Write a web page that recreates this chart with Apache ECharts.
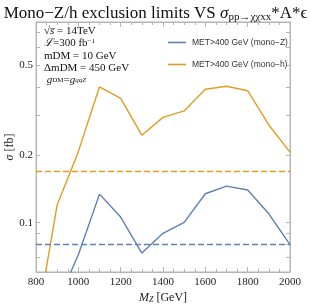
<!DOCTYPE html>
<html><head><meta charset="utf-8">
<script src="https://cdn.jsdelivr.net/npm/echarts@6/dist/echarts.min.js"></script>
<style>html,body{margin:0;padding:0;background:#fff}#c{width:311px;height:306px}</style>
</head><body><div id="c"></div>
<script>
const masses = [800, 900, 1000, 1100, 1200, 1300, 1400, 1500, 1600, 1700, 1800, 1900, 2000];
const monoZ = [0.020, 0.044, 0.072, 0.134, 0.106, 0.0733, 0.0897, 0.1004, 0.1345, 0.1455, 0.1397, 0.1096, 0.080];
const monoH = [0.034, 0.120, 0.207, 0.402, 0.357, 0.245, 0.294, 0.314, 0.392, 0.404, 0.386, 0.272, 0.206];
const limitZ = 0.0782;
const limitH = 0.170;
const yLabelValues = [0.1, 0.2, 0.5];
const yTickValues = [0.06, 0.07, 0.08, 0.09, 0.1, 0.2, 0.3, 0.4, 0.5, 0.6, 0.7];
const seriesNames = ['MET>400 GeV (mono\u2212Z)', 'MET>400 GeV (mono\u2212h)'];

const BLUE = '#5e81b5', ORANGE = '#e19c24', FRAME = '#b4b4b4';
const SERIF = '"Liberation Serif","DejaVu Serif",serif';
const SANS = '"Liberation Sans",Arial,sans-serif';
const yMin = 0.0604, yMax = 0.78;

const chart = echarts.init(document.getElementById('c'), null, {renderer: 'canvas'});
function yAx(pos, labels, ticks, len) {
  return {
    type: 'log', position: pos, min: yMin, max: yMax, logBase: 10,
    axisLine: {show: true, lineStyle: {color: FRAME, width: 1}},
    splitLine: {show: false},
    axisTick: {show: true, inside: true, length: len, customValues: ticks, lineStyle: {color: FRAME, width: 1}},
    axisLabel: labels ? {show: true, customValues: yLabelValues, fontFamily: SERIF, fontSize: 11, color: '#222', margin: 3,
      formatter: v => String(+(+v).toFixed(2))} : {show: false},
  };
}
const xCommon = {
  type: 'value', min: 800, max: 2000, interval: 200,
  axisLine: {show: true, onZero: false, lineStyle: {color: FRAME, width: 1}}, splitLine: {show: false},
  axisTick: {show: true, inside: true, length: 5, lineStyle: {color: FRAME}},
  minorTick: {show: true, splitNumber: 4, length: 3, lineStyle: {color: FRAME}},
};
const option = {
  animation: false,
  title: {
    text: 'Mono\u2212Z/h exclusion limits VS {s|\u03c3}{sub|pp\u2192\u03c7\u03c7xx}*A*\u03f5',
    left: 'center', top: 0,
    textStyle: {fontFamily: SERIF, fontSize: 17, fontWeight: 'normal', color: '#111',
      rich: {s: {fontFamily: SERIF, fontSize: 17, fontStyle: 'italic', color: '#111'},
             sub: {fontFamily: SERIF, fontSize: 11, color: '#111', verticalAlign: 'bottom', padding: [7, 0, 0, 0]}}}
  },
  grid: {left: 36, right: 21, top: 22, bottom: 34, show: true, borderColor: FRAME, borderWidth: 1,
    containLabel: false, outerBoundsMode: 'none'},
  legend: {
    orient: 'vertical', left: 163, top: 33, itemWidth: 18, itemHeight: 1.6, itemGap: 13,
    textStyle: {fontFamily: SANS, fontSize: 8.5, color: '#333', padding: [0, 0, 0, 1]},
    data: [{name: seriesNames[0], icon: 'rect', itemStyle: {color: BLUE}},
           {name: seriesNames[1], icon: 'rect', itemStyle: {color: ORANGE}}]
  },
  xAxis: [
    Object.assign({}, xCommon, {
      position: 'bottom',
      axisLabel: {show: true, fontFamily: SERIF, fontSize: 11, color: '#222', margin: 5, formatter: v => String(v)},
      name: '{i|M}{sub|Z} [GeV]', nameLocation: 'middle', nameGap: 19, nameMoveOverlap: false,
      nameTextStyle: {fontFamily: SERIF, fontSize: 12, color: '#222',
        rich: {i: {fontFamily: SERIF, fontSize: 12, fontStyle: 'italic', color: '#222'},
               sub: {fontFamily: SERIF, fontSize: 8, fontStyle: 'italic', color: '#222', verticalAlign: 'bottom', padding: [5, 0, 0, 0]}}}
    }),
    Object.assign({}, xCommon, {position: 'top', axisLabel: {show: false}})
  ],
  yAxis: [
    Object.assign(yAx('left', true, yTickValues, 4), {
      name: '{i|\u03c3} [fb]', nameLocation: 'middle', nameGap: 20, nameRotate: 90, nameMoveOverlap: false,
      nameTextStyle: {fontFamily: SERIF, fontSize: 12, color: '#222',
        rich: {i: {fontFamily: SERIF, fontSize: 12, fontStyle: 'italic', color: '#222'}}}
    }),
    yAx('right', false, yTickValues, 4)
  ],
  series: [
    {
      name: seriesNames[0], type: 'line', data: masses.map((m, i) => [m, monoZ[i]]),
      showSymbol: false, symbol: 'none', lineStyle: {color: BLUE, width: 1.4}, itemStyle: {color: BLUE}, clip: true,
      markLine: {silent: true, symbol: 'none', label: {show: false},
        lineStyle: {color: BLUE, type: [6, 3], width: 1.4}, data: [{yAxis: limitZ}]}
    },
    {
      name: seriesNames[1], type: 'line', data: masses.map((m, i) => [m, monoH[i]]),
      showSymbol: false, symbol: 'none', lineStyle: {color: ORANGE, width: 1.4}, itemStyle: {color: ORANGE}, clip: true,
      markLine: {silent: true, symbol: 'none', label: {show: false},
        lineStyle: {color: ORANGE, type: [6, 3], width: 1.4}, data: [{yAxis: limitH}]}
    }
  ],
  graphic: [
    {type: 'text', left: 44, top: 25, style: {
      text: '{a|\u221as\u0305} = 14TeV\n{a|\u2112}=300 fb{sup|\u22121}\nmDM = 10 GeV\n\u0394mDM = 450 GeV\n {a|g}{sub|DM}={a|g}{sub2|qqZ}',
      fontFamily: SERIF, fontSize: 11, lineHeight: 12.3, fill: '#111',
      rich: {a: {fontFamily: SERIF, fontSize: 11, fontStyle: 'italic', fill: '#111'},
             sup: {fontFamily: SERIF, fontSize: 7, verticalAlign: 'top', fill: '#111'},
             sub: {fontFamily: SERIF, fontSize: 7, fill: '#111'},
             sub2: {fontFamily: SERIF, fontSize: 7, fontStyle: 'italic', fill: '#111'}}
    }}
  ]
};
chart.setOption(option);
</script></body></html>
